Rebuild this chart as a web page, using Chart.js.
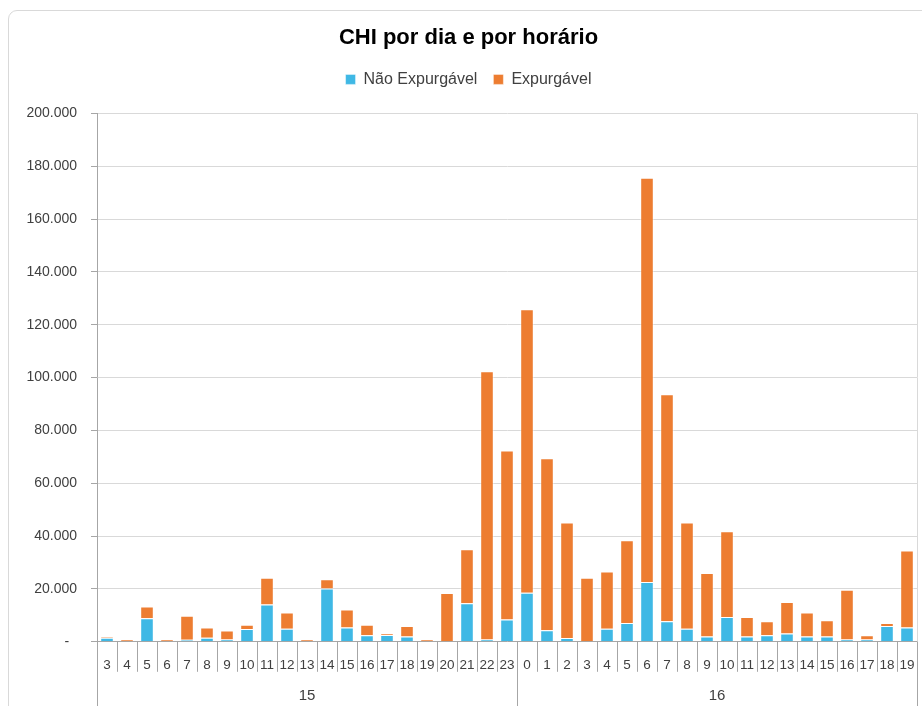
<!DOCTYPE html>
<html>
<head>
<meta charset="utf-8">
<script src="https://cdn.jsdelivr.net/npm/chart.js@4"></script>
<style>
  html, body { margin: 0; padding: 0; background: #fff; overflow: hidden; }
  #wrap { position: relative; width: 922px; height: 706px; overflow: hidden; }
  #frame { position: absolute; left: 8px; top: 10px; width: 960px; height: 760px;
    border: 1px solid #d9d9d9; border-radius: 9px; }
  #box { position: absolute; left: 0; top: 0; width: 922px; height: 706px; }
</style>
</head>
<body>
<div id="wrap">
  <div id="frame"></div>
  <div id="box"><canvas id="chi"></canvas></div>
</div>
<script>
'use strict';

// hours shown under each day
const days = ['15', '16'];
const hours15 = ['3','4','5','6','7','8','9','10','11','12','13','14','15','16','17','18','19','20','21','22','23'];
const hours16 = ['0','1','2','3','4','5','6','7','8','9','10','11','12','13','14','15','16','17','18','19'];

// values
const naoExpurgavel = [
  1500, 0, 8900, 0, 800, 1500, 900, 4800, 14100, 4900, 0, 20200, 5400, 2500, 2600, 2000, 0, 0, 14600, 900, 8400,
  18600, 4400, 1400, 0, 4900, 7100, 22600, 7800, 4900, 2000, 9400, 2000, 2500, 3100, 2000, 2000, 900, 900, 6000, 5400
];
const expurgavel = [
  500, 900, 4500, 900, 9100, 3900, 3400, 1700, 10100, 6200, 900, 3500, 6800, 4000, 500, 4000, 900, 18500, 20400, 101500, 64000,
  107300, 65100, 43800, 24200, 21700, 31300, 153000, 85900, 40300, 24000, 32400, 7400, 5300, 12000, 9100, 6200, 18800, 1600, 1100, 29200
];
const yTicks = [0, 20000, 40000, 60000, 80000, 100000, 120000, 140000, 160000, 180000, 200000];

const labels = hours15.concat(hours16);
const font = '"Liberation Sans", Arial, sans-serif';

function fmt(v) {
  if (v === 0) return '-  ';
  return String(v).replace(/\B(?=(\d{3})+(?!\d))/g, '.');
}

// legend a bit taller so the plot starts lower, like the excel one
const legendSpace = {
  id: 'legendSpace',
  beforeInit(chart) {
    const fit = chart.legend.fit;
    chart.legend.fit = function () {
      fit.call(this);
      this.height += 16;
    };
  }
};

// draws the two level category axis (hour / day) like excel
const dayAxis = {
  id: 'dayAxis',
  afterDraw(chart) {
    const ctx = chart.ctx;
    const x = chart.scales.x;
    const area = chart.chartArea;
    const step = x.getPixelForValue(1) - x.getPixelForValue(0);
    const bottom = area.bottom;
    ctx.save();
    // right border of plot
    ctx.strokeStyle = '#d9d9d9';
    ctx.lineWidth = 1;
    ctx.beginPath();
    ctx.moveTo(area.right + 0.5, area.top);
    ctx.lineTo(area.right + 0.5, bottom);
    ctx.stroke();

    ctx.strokeStyle = '#a6a6a6';
    ctx.beginPath();
    // hour separators
    for (let i = 1; i < labels.length; i++) {
      const px = Math.round(x.getPixelForValue(i) - step / 2) + 0.5;
      ctx.moveTo(px, bottom);
      ctx.lineTo(px, bottom + 30);
    }
    // day separators
    const bounds = [0, hours15.length, labels.length];
    bounds.forEach(function (b) {
      const px = Math.round(x.getPixelForValue(b) - step / 2) + 0.5;
      ctx.moveTo(px, bottom);
      ctx.lineTo(px, chart.height);
    });
    ctx.stroke();

    ctx.fillStyle = '#404040';
    ctx.font = '15px ' + font;
    ctx.textAlign = 'center';
    ctx.textBaseline = 'middle';
    for (let d = 0; d < days.length; d++) {
      const a = x.getPixelForValue(bounds[d]) - step / 2;
      const b = x.getPixelForValue(bounds[d + 1]) - step / 2;
      ctx.fillText(days[d], (a + b) / 2, bottom + 54);
    }
    ctx.restore();
  }
};

let ctx = document.getElementById('chi').getContext('2d');

// eslint-disable-next-line no-unused-vars
let chiChart = new Chart(ctx, {
  type: 'bar',
  data: {
    labels: labels,
    datasets: [{
      label: 'Não Expurgável',
      data: naoExpurgavel,
      backgroundColor: '#3fb8e5',
      borderColor: 'rgba(255,255,255,0.45)',
      borderWidth: 1
    }, {
      label: 'Expurgável',
      data: expurgavel,
      backgroundColor: '#ed7d31',
      borderColor: 'rgba(255,255,255,0.45)',
      borderWidth: 1
    }]
  },
  options: {
    responsive: true,
    maintainAspectRatio: false,
    animation: false,
    layout: {
      padding: { top: 25, right: 5, bottom: 26, left: 20 }
    },
    datasets: {
      bar: { barPercentage: 0.68, categoryPercentage: 1 }
    },
    plugins: {
      title: {
        display: true,
        text: 'CHI por dia e por horário',
        color: '#000',
        font: { family: font, size: 22, weight: 'bold' },
        padding: { top: 0, bottom: 4 }
      },
      legend: {
        labels: {
          color: '#404040',
          font: { family: font, size: 16 },
          boxWidth: 10,
          boxHeight: 10,
          padding: 16
        }
      },
      tooltip: { enabled: false }
    },
    scales: {
      x: {
        stacked: true,
        grid: { display: false },
        border: { color: '#a6a6a6' },
        ticks: {
          color: '#404040',
          font: { family: font, size: 13.5 },
          padding: 7,
          maxRotation: 0,
          autoSkip: false
        }
      },
      y: {
        stacked: true,
        min: 0,
        max: 200000,
        afterFit(scale) { scale.width = 77; },
        afterBuildTicks(scale) { scale.ticks = yTicks.map(function (v) { return { value: v }; }); },
        grid: { color: '#d9d9d9', tickColor: '#a6a6a6', tickLength: 6 },
        border: { color: '#a6a6a6' },
        ticks: {
          color: '#404040',
          font: { family: font, size: 14 },
          padding: 14,
          callback: function (v) { return fmt(v); }
        }
      }
    }
  },
  plugins: [legendSpace, dayAxis]
});
</script>
</body>
</html>
